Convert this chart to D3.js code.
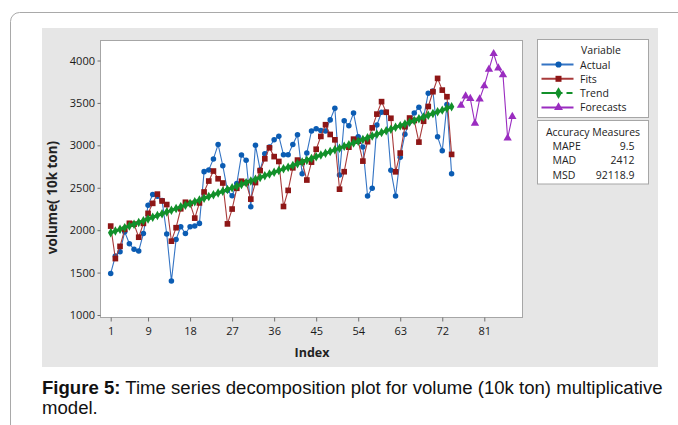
<!DOCTYPE html>
<html><head><meta charset="utf-8">
<script src="https://cdn.jsdelivr.net/npm/d3@7"></script>
<style>body{margin:0;background:#fff;} svg{display:block;}</style>
</head><body>
<svg id="c" width="678" height="425"></svg>
<script>
// ---------- data ----------
const actualIndex = d3.range(1, 75);
const actualValues = [1490,1695,1745,1980,1840,1775,1755,1960,2295,2420,2400,2350,1955,1400,1890,2040,1960,2040,2050,2080,
  2690,2710,2840,3010,2760,2470,2405,2550,2885,2825,2275,3000,2710,2900,2980,3065,3108,2890,2890,3010,
  3125,2665,2910,3170,3195,3175,3170,3300,3437,2651,3290,3230,3380,3100,2980,2403,2494,3240,3390,3390,
  2705,2403,2860,3130,3280,3380,3450,3330,3615,3640,3100,2935,3480,2665];
const fitsValues = [2048,1665,1809,2010,2081,2071,1917,2080,2198,2316,2425,2344,2302,1870,2029,2252,2329,2315,2142,2321,
  2450,2579,2697,2606,2556,2074,2249,2494,2577,2560,2366,2561,2702,2842,2971,2867,2810,2279,2469,2735,
  2826,2804,2591,2802,2954,3105,3243,3128,3065,2483,2689,2978,3073,3049,2814,3043,3206,3368,3515,3390,
  3319,2688,2909,3219,3322,3293,3038,3284,3458,3632,3789,3651,3573,2893];
const trendValues = [1969,1989,2010,2030,2050,2071,2091,2112,2132,2152,2173,2193,2213,2234,2254,2275,2295,2315,2336,2356,
  2376,2397,2417,2438,2458,2478,2499,2519,2539,2560,2580,2600,2621,2641,2662,2682,2702,2723,2743,2763,
  2784,2804,2825,2845,2865,2886,2906,2926,2947,2967,2988,3008,3028,3049,3069,3089,3110,3130,3150,3171,
  3191,3212,3232,3252,3273,3293,3313,3334,3354,3375,3395,3415,3436,3456];
const forecastIndex = [76,77,78,79,80,81,82,83,84,85,86,87];
const forecastValues = [3470,3580,3550,3260,3545,3700,3895,4080,3910,3830,3085,3340];
const xTicks = [1,9,18,27,36,45,54,63,72,81];
const yTicks = [1000,1500,2000,2500,3000,3500,4000];
const legendNames = ["Actual","Fits","Trend","Forecasts"];
const measureNames = ["MAPE","MAD","MSD"];
const measureValues = ["9.5","2412","92118.9"];

// ---------- drawing ----------
const FONT = "'Open Sans','Noto Sans',sans-serif";
const COL = {actual:"#0b5cb3", actualLine:"#3474c4", fits:"#8e1616", fitsLine:"#a83a3a", trend:"#12902a", fore:"#9a2cc0"};
const svg = d3.select("#c");

svg.append("rect").attr("x",10.5).attr("y",12.5).attr("width",720).attr("height",460).attr("rx",9)
  .attr("fill","none").attr("stroke","#a9a9a9").attr("stroke-width",1);
svg.append("rect").attr("x",42).attr("y",28).attr("width",616).attr("height",339).attr("fill","#e6e6e6");

const P = {l:100.5, t:40.5, r:522.5, b:317.5};
svg.append("rect").attr("x",P.l).attr("y",P.t).attr("width",P.r-P.l).attr("height",P.b-P.t)
  .attr("fill","#fff").attr("stroke","#a6a6a6");

const x = d3.scaleLinear().domain([1,81]).range([110.7,484.3]);
const y = d3.scaleLinear().domain([1000,4000]).range([315,60.5]);

const gx = svg.append("g").attr("transform",`translate(0,${P.b})`)
  .call(d3.axisBottom(x).tickValues(xTicks).tickSize(4).tickPadding(6).tickFormat(d3.format("d")));
const gy = svg.append("g").attr("transform",`translate(${P.l},0)`)
  .call(d3.axisLeft(y).tickValues(yTicks).tickSize(3).tickPadding(2.5).tickFormat(d3.format("d")));
[gx,gy].forEach(g=>{
  g.select(".domain").remove();
  g.selectAll(".tick line").attr("stroke","#707070");
  g.selectAll(".tick text").attr("fill","#1a1a1a").style("font-family",FONT).style("font-size","11px");
});

svg.append("text").attr("x",312).attr("y",352).attr("text-anchor","middle").attr("dominant-baseline","central")
  .style("font-family",FONT).style("font-size","12.5px").style("font-weight","bold").attr("fill","#222").text("Index");
svg.append("text").attr("transform","translate(52,197.5) rotate(-90)").attr("text-anchor","middle")
  .attr("dominant-baseline","central").style("font-family",FONT).style("font-size","13.5px")
  .style("font-weight","bold").attr("fill","#222").text("volume( 10k ton)");

const line = d3.line().x(d=>x(d[0])).y(d=>y(d[1]));
const actual = actualIndex.map((d,i)=>[d,actualValues[i]]);
const fits = actualIndex.map((d,i)=>[d,fitsValues[i]]);
const trend = actualIndex.map((d,i)=>[d,trendValues[i]]);
const fore = forecastIndex.map((d,i)=>[d,forecastValues[i]]);

const plot = svg.append("g");
function series(data, lineColor, lw, markColor, symbol, size){
  plot.append("path").datum(data).attr("d",line).attr("fill","none").attr("stroke",lineColor).attr("stroke-width",lw);
  plot.append("g").selectAll("path").data(data).join("path")
    .attr("transform",d=>`translate(${x(d[0])},${y(d[1])})`)
    .attr("d",d3.symbol().type(symbol).size(size)).attr("fill",markColor);
}
series(actual, COL.actualLine, 1.1, COL.actual, d3.symbolCircle, 24);
series(fits, COL.fitsLine, 1.1, COL.fits, d3.symbolSquare, 32);
series(trend, COL.trend, 3, COL.trend, d3.symbolDiamond, 26);
series(fore, COL.fore, 1.1, COL.fore, d3.symbolTriangle, 30);

// legend
const L = svg.append("g");
L.append("rect").attr("x",537.5).attr("y",39.5).attr("width",111).attr("height",78).attr("fill","#fff").attr("stroke","#a6a6a6");
L.append("rect").attr("x",537.5).attr("y",120.5).attr("width",111).attr("height",63.5).attr("fill","#fff").attr("stroke","#a6a6a6");
L.append("text").attr("x",601).attr("y",50).attr("text-anchor","middle").attr("dominant-baseline","central")
  .style("font-family",FONT).style("font-size","10.5px").attr("fill","#222").text("Variable");
const legCols = [[COL.actualLine,COL.actual,d3.symbolCircle,30],[COL.fitsLine,COL.fits,d3.symbolSquare,36],
  [COL.trend,COL.trend,d3.symbolDiamond,40],[COL.fore,COL.fore,d3.symbolTriangle,34]];
legendNames.forEach((n,i)=>{
  const yy = 64.5 + i*14.3;
  const ln = L.append("line").attr("x1",541.5).attr("x2",573.5).attr("y1",yy).attr("y2",yy)
    .attr("stroke",legCols[i][0]).attr("stroke-width",2);
  if(n==="Trend") ln.attr("stroke-dasharray","21,4,6,20");
  L.append("path").attr("transform",`translate(558.5,${yy})`).attr("d",d3.symbol().type(legCols[i][2]).size(legCols[i][3]))
    .attr("fill",legCols[i][1]);
  L.append("text").attr("x",580).attr("y",yy).attr("dominant-baseline","central")
    .style("font-family",FONT).style("font-size","10.5px").attr("fill","#222").text(n);
});
L.append("text").attr("x",593).attr("y",131.5).attr("text-anchor","middle").attr("dominant-baseline","central")
  .style("font-family",FONT).style("font-size","10.5px").attr("fill","#222").text("Accuracy Measures");
measureNames.forEach((n,i)=>{
  const yy = 145.5 + i*14.5;
  L.append("text").attr("x",552.5).attr("y",yy).attr("dominant-baseline","central")
    .style("font-family",FONT).style("font-size","10.5px").attr("fill","#222").text(n);
  L.append("text").attr("x",634.5).attr("y",yy).attr("text-anchor","end").attr("dominant-baseline","central")
    .style("font-family",FONT).style("font-size","10.5px").attr("fill","#222").text(measureValues[i]);
});

// caption
const CF = "'Liberation Sans Narrow','Liberation Sans',Arial,sans-serif";
const cap = svg.append("text").attr("x",42).attr("y",394).style("font-family",CF).style("font-size","16px").attr("fill","#111");
cap.append("tspan").style("font-weight","bold").text("Figure 5:");
cap.append("tspan").text(" Time series decomposition plot for volume (10k ton) multiplicative");
const w = cap.node().getComputedTextLength();
const fs = Math.min(19.5, 16*621/w);
cap.style("font-size",fs+"px");
svg.append("text").attr("x",42).attr("y",414).style("font-family",CF).style("font-size",fs+"px").attr("fill","#111").text("model.");
</script>
</body></html>
